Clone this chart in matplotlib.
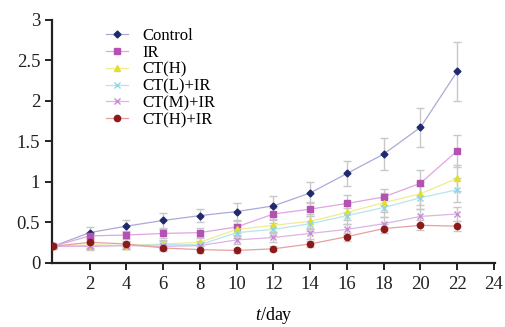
import numpy as np
import matplotlib.pyplot as plt

plt.rcParams['font.family'] = ['Liberation Serif', 'DejaVu Serif']
plt.rcParams['mathtext.fontset'] = 'custom'
plt.rcParams['mathtext.rm'] = 'Liberation Serif'
plt.rcParams['mathtext.it'] = 'Liberation Serif:italic'

# sampling days
days = [0, 2, 4, 6, 8, 10, 12, 14, 16, 18, 20, 22]

# mean values
control = [0.20, 0.37, 0.45, 0.52, 0.58, 0.63, 0.70, 0.86, 1.10, 1.34, 1.67, 2.36]
ir = [0.20, 0.33, 0.34, 0.36, 0.37, 0.44, 0.60, 0.66, 0.73, 0.81, 0.98, 1.38]
ct_h = [0.20, 0.22, 0.21, 0.23, 0.25, 0.41, 0.46, 0.51, 0.62, 0.74, 0.85, 1.04]
ct_l_ir = [0.20, 0.21, 0.21, 0.22, 0.22, 0.37, 0.41, 0.48, 0.58, 0.68, 0.80, 0.90]
ct_m_ir = [0.20, 0.20, 0.21, 0.20, 0.21, 0.28, 0.31, 0.36, 0.41, 0.48, 0.57, 0.60]
ct_h_ir = [0.20, 0.25, 0.23, 0.18, 0.16, 0.15, 0.17, 0.23, 0.32, 0.42, 0.46, 0.45]

# error bars (+/-)
control_err = [0.02, 0.07, 0.07, 0.09, 0.08, 0.10, 0.12, 0.13, 0.16, 0.20, 0.24, 0.36]
ir_err = [0.02, 0.05, 0.05, 0.06, 0.06, 0.07, 0.08, 0.09, 0.10, 0.10, 0.16, 0.20]
ct_h_err = [0.02, 0.04, 0.04, 0.05, 0.05, 0.07, 0.08, 0.09, 0.10, 0.12, 0.14, 0.16]
ct_l_ir_err = [0.02, 0.04, 0.04, 0.05, 0.05, 0.07, 0.08, 0.09, 0.10, 0.12, 0.14, 0.15]
ct_m_ir_err = [0.02, 0.04, 0.04, 0.04, 0.05, 0.05, 0.06, 0.07, 0.07, 0.08, 0.09, 0.09]
ct_h_ir_err = [0.02, 0.04, 0.04, 0.04, 0.04, 0.03, 0.03, 0.04, 0.05, 0.06, 0.06, 0.06]

labels = ['Control', 'IR', 'CT(H)', 'CT(L)+IR', 'CT(M)+IR', 'CT(H)+IR']
series = [control, ir, ct_h, ct_l_ir, ct_m_ir, ct_h_ir]
errors = [control_err, ir_err, ct_h_err, ct_l_ir_err, ct_m_ir_err, ct_h_ir_err]

markers = ['D', 's', '^', 'x', 'x', 'o']
marker_colors = ['#1f2a6e', '#b452b4', '#e2dd30', '#8fd6e3', '#c98ad6', '#8c1a1a']
line_colors = ['#aaaad6', '#e0a6e0', '#f0ec90', '#b3e6ee', '#dcb4e6', '#e6a0a0']
marker_sizes = [3.5, 4.5, 5, 5, 5, 4.5]

fig = plt.figure(figsize=(5.05, 3.27), dpi=100)
ax = fig.add_axes([0.103, 0.197, 0.877, 0.743])

for y, e, lab, m, mc, lc, ms in zip(series, errors, labels, markers,
                                       marker_colors, line_colors, marker_sizes):
    ax.errorbar(days, y, yerr=e, fmt='none', ecolor='#c8c8c8',
                elinewidth=1.0, capsize=3, capthick=1.0, zorder=1)
    ax.plot(days, y, color=lc, lw=0.9, marker=m, markersize=ms,
            markerfacecolor=mc, markeredgecolor=mc, markeredgewidth=1.0,
            label=lab, zorder=3)

ax.set_xlim(-0.05, 24.05)
ax.set_ylim(0, 3)
ax.set_xticks([2, 4, 6, 8, 10, 12, 14, 16, 18, 20, 22, 24])
ax.set_yticks([0, 0.5, 1, 1.5, 2, 2.5, 3])
ax.set_yticklabels(['0', '0.5', '1', '1.5', '2', '2.5', '3'])

for side in ['top', 'right']:
    ax.spines[side].set_visible(False)
for side in ['left', 'bottom']:
    ax.spines[side].set_linewidth(1.6)
    ax.spines[side].set_color('#222222')
ax.tick_params(direction='out', length=5, width=1.4, labelsize=13.5,
               colors='#222222')
ax.tick_params(axis='x', pad=5)

ax.set_xlabel(r'$\mathit{t}$/day', fontsize=13, labelpad=8)

fig.legend(loc='upper left', bbox_to_anchor=(106 / 505, 1 - 28 / 327),
           frameon=False, fontsize=12, handlelength=1.3, handletextpad=0.9,
           labelspacing=0.05, borderpad=0, borderaxespad=0)

fig.savefig('out.png', dpi=100)
